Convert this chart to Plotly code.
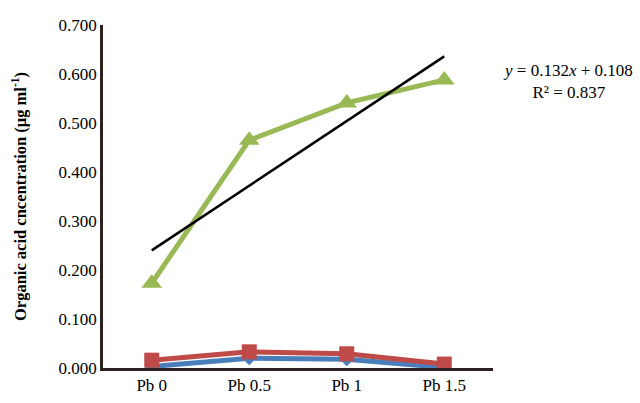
import plotly.graph_objects as go

categories = ["Pb 0", "Pb 0.5", "Pb 1", "Pb 1.5"]
blue_vals = [0.003, 0.020, 0.018, 0.001]
red_vals = [0.016, 0.033, 0.029, 0.008]
green_vals = [0.173, 0.465, 0.541, 0.588]
trend_slope = 0.132
trend_intercept = 0.108
y_ticks = [0.0, 0.1, 0.2, 0.3, 0.4, 0.5, 0.6, 0.7]

trend_vals = [trend_slope * (i + 1) + trend_intercept for i in range(len(categories))]

font_family = "Liberation Serif, Times New Roman, serif"

fig = go.Figure()
fig.add_trace(go.Scatter(x=categories, y=blue_vals, mode="lines+markers",
                         line=dict(color="#4a7ebb", width=5),
                         marker=dict(symbol="diamond", size=11, color="#4a7ebb")))
fig.add_trace(go.Scatter(x=categories, y=red_vals, mode="lines+markers",
                         line=dict(color="#be4b48", width=5),
                         marker=dict(symbol="square", size=15, color="#be4b48")))
fig.add_trace(go.Scatter(x=categories, y=green_vals, mode="lines+markers",
                         line=dict(color="#98b954", width=5),
                         marker=dict(symbol="triangle-up", size=18, color="#98b954")))
fig.add_trace(go.Scatter(x=categories, y=trend_vals, mode="lines",
                         line=dict(color="black", width=2.5)))

fig.update_layout(
    width=640, height=403,
    margin=dict(l=103, r=147, t=25, b=35, autoexpand=False),
    plot_bgcolor="white", paper_bgcolor="white",
    showlegend=False,
    font=dict(family=font_family, size=17, color="black"),
    xaxis=dict(type="category", range=[-0.5, 3.5], showgrid=False, automargin=False,
               showline=True, linecolor="#2b2220", linewidth=2.5,
               ticks="", tickfont=dict(size=17, family=font_family, color="black")),
    yaxis=dict(range=[0, 0.7], tickvals=y_ticks, tickformat=".3f", automargin=False,
               showgrid=False, zeroline=False,
               showline=True, linecolor="#2b2220", linewidth=2.5,
               ticks="", ticklen=0, tickfont=dict(size=17, family=font_family, color="black"),
               title=dict(text="<b>Organic acid cncentration (μg ml<sup>-1</sup>)</b>",
                          font=dict(size=16.5, family=font_family, color="black"), standoff=28)),
)

fig.add_annotation(xref="paper", yref="paper", x=1.192, y=0.834,
                   xanchor="center", yanchor="middle",
                   text="<i>y</i> = 0.132<i>x</i> + 0.108<br>R² = 0.837",
                   showarrow=False, align="center",
                   font=dict(size=17, family=font_family, color="black"))

fig.write_html("out.html", config={"displayModeBar": False},
               post_script="document.body.style.margin='0';document.body.style.overflow='hidden';")
